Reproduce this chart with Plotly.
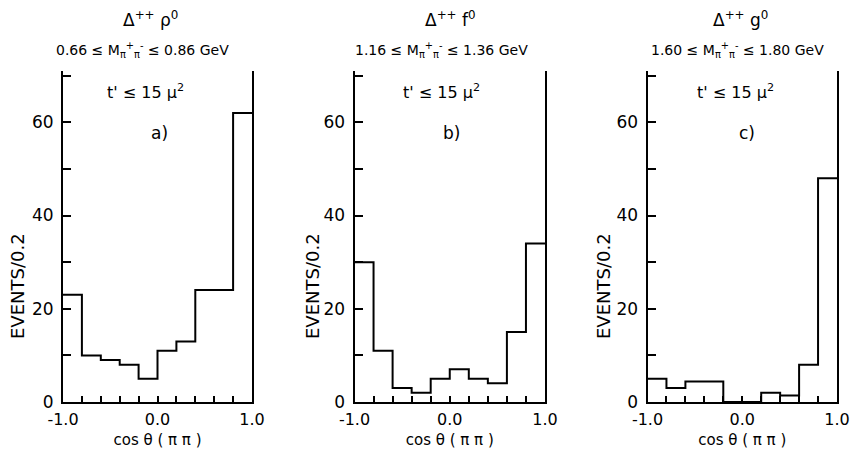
import plotly.graph_objects as go

# ---- data ----
bin_edges = [-1.0, -0.8, -0.6, -0.4, -0.2, 0.0, 0.2, 0.4, 0.6, 0.8, 1.0]
rho_counts = [23, 10, 9, 8, 5, 11, 13, 24, 24, 62]
f_counts = [30, 11, 3, 2, 5, 7, 5, 4, 15, 34]
g_counts = [5, 3, 4.4, 4.4, 0, 0, 2, 1.4, 8, 48]

x_major_ticks = [-1.0, 0.0, 1.0]
x_major_text = ["-1.0", "0.0", "1.0"]
y_major_ticks = [0, 20, 40, 60]
y_major_text = ["0", "20", "40", "60"]
x_tick_step = 0.2
y_tick_step = 10

titles = ["Δ<sup>++</sup> ρ<sup>0</sup>", "Δ<sup>++</sup> f<sup>0</sup>", "Δ<sup>++</sup> g<sup>0</sup>"]
mass_cuts = [
    "0.66 ≤ M<sub>π</sub><sup>+</sup><sub>π</sub><sup>-</sup> ≤ 0.86 GeV",
    "1.16 ≤ M<sub>π</sub><sup>+</sup><sub>π</sub><sup>-</sup> ≤ 1.36 GeV",
    "1.60 ≤ M<sub>π</sub><sup>+</sup><sub>π</sub><sup>-</sup> ≤ 1.80 GeV",
]
t_cut = "t' ≤ 15 μ<sup>2</sup>"
panel_labels = ["a)", "b)", "c)"]
x_title = "cos θ ( π π )"
y_title = "EVENTS/0.2"

# ---- layout geometry ----
W, H = 851, 456
x_domains = [[63 / W, 252 / W], [354.5 / W, 545 / W], [647.5 / W, 837 / W]]
y_domain = [1 - 402 / H, 1 - 71 / H]
title_x = [150, 450, 740]
cut_x = [142, 442, 737.5]
t_x = [145, 441, 735]
lab_x = [159, 452, 747]
ytitle_x = [17, 312, 603]

FONT = "DejaVu Sans"

fig = go.Figure()
series = [rho_counts, f_counts, g_counts]
for i, counts in enumerate(series):
    xa = "x" if i == 0 else f"x{i+1}"
    ya = "y" if i == 0 else f"y{i+1}"
    fig.add_trace(go.Scatter(
        x=bin_edges, y=counts + [counts[-1]],
        mode="lines", line=dict(shape="hv", color="black", width=2),
        xaxis=xa, yaxis=ya, showlegend=False, hoverinfo="skip",
    ))
    # invisible companion trace that hosts the overlay tick axes
    fig.add_trace(go.Scatter(
        x=bin_edges, y=counts + [counts[-1]],
        mode="lines", line=dict(shape="hv", color="rgba(0,0,0,0)", width=0),
        xaxis=f"x{i+4}", yaxis=f"y{i+4}", showlegend=False, hoverinfo="skip",
    ))

layout = dict(
    width=W, height=H, margin=dict(l=0, r=0, t=0, b=0),
    paper_bgcolor="white", plot_bgcolor="white",
    font=dict(family=FONT, color="black"),
    showlegend=False,
)
for i in range(3):
    sx = "" if i == 0 else str(i + 1)
    ox = str(i + 4)
    layout["xaxis" + sx] = dict(
        domain=x_domains[i], range=[-1.0, 1.0], anchor="y" + sx,
        showline=True, linecolor="black", linewidth=2, mirror=False,
        showgrid=False, zeroline=False, automargin=False, layer="above traces",
        tickmode="array", tickvals=x_major_ticks, ticktext=x_major_text,
        ticks="inside", ticklen=6, tickwidth=2, tickcolor="black",
        tickfont=dict(size=16, family=FONT), ticklabelstandoff=2,
        title=dict(text=x_title, font=dict(size=15, family=FONT), standoff=6),
    )
    layout["yaxis" + sx] = dict(
        domain=y_domain, range=[0, 71], anchor="x" + sx,
        showline=True, linecolor="black", linewidth=2, mirror=True,
        showgrid=False, zeroline=False, automargin=False, layer="above traces",
        tickmode="array", tickvals=y_major_ticks, ticktext=y_major_text,
        ticks="inside", ticklen=8, tickwidth=2, tickcolor="black",
        tickfont=dict(size=17, family=FONT), ticklabelstandoff=4,
    )
    # overlay axes: unlabeled intermediate ticks
    layout["xaxis" + ox] = dict(
        overlaying="x" + sx, anchor="y" + ox, range=[-1.0, 1.0],
        showline=False, showgrid=False, zeroline=False, automargin=False,
        tickmode="linear", tick0=-1.0, dtick=x_tick_step, showticklabels=False,
        ticks="inside", ticklen=6, tickwidth=2, tickcolor="black",
    )
    layout["yaxis" + ox] = dict(
        overlaying="y" + sx, anchor="x" + ox, range=[0, 71],
        showline=False, showgrid=False, zeroline=False, automargin=False,
        tickmode="linear", tick0=0, dtick=y_tick_step, showticklabels=False,
        ticks="inside", ticklen=8, tickwidth=2, tickcolor="black",
    )
fig.update_layout(**layout)

for i in range(3):
    fig.add_annotation(text=titles[i], x=title_x[i] / W, y=1 - 19 / H, xref="paper", yref="paper",
                       showarrow=False, xanchor="center", yanchor="middle", font=dict(size=17, family=FONT))
    fig.add_annotation(text=mass_cuts[i], x=cut_x[i] / W, y=1 - 50 / H, xref="paper", yref="paper",
                       showarrow=False, xanchor="center", yanchor="middle", font=dict(size=14, family=FONT))
    fig.add_annotation(text=t_cut, x=t_x[i] / W, y=1 - 91 / H, xref="paper", yref="paper",
                       showarrow=False, xanchor="center", yanchor="middle", font=dict(size=16, family=FONT))
    fig.add_annotation(text=panel_labels[i], x=lab_x[i] / W, y=1 - 133 / H, xref="paper", yref="paper",
                       showarrow=False, xanchor="center", yanchor="middle", font=dict(size=17, family=FONT))
    fig.add_annotation(text=y_title, x=ytitle_x[i] / W, y=1 - 286 / H, xref="paper", yref="paper",
                       showarrow=False, xanchor="center", yanchor="middle", textangle=-90,
                       font=dict(size=18, family=FONT))

fig.write_html("out.html")
